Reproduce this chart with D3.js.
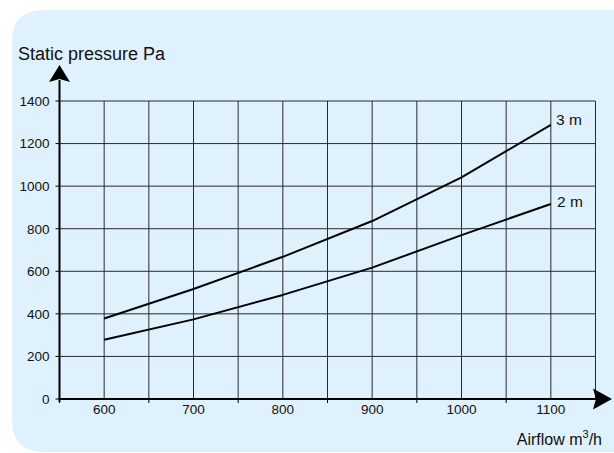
<!DOCTYPE html>
<html>
<head>
<meta charset="utf-8">
<script src="https://cdn.jsdelivr.net/npm/d3@7"></script>
<style>
  html, body { margin: 0; padding: 0; background: #ffffff; }
  svg { display: block; font-family: "Liberation Sans", Arial, Helvetica, sans-serif; }
</style>
</head>
<body>
<svg id="chart" width="614" height="453"></svg>
<script>
// ---- data ----
const airflow = [600, 700, 800, 900, 1000, 1100];
const pressure3m = [378, 517, 668, 836, 1041, 1288];
const pressure2m = [278, 374, 489, 617, 770, 916];
const seriesLabels = ["3 m", "2 m"];
const xTickLabels = [600, 700, 800, 900, 1000, 1100];
const yTickLabels = [0, 200, 400, 600, 800, 1000, 1200, 1400];
const xGridValues = [600, 650, 700, 750, 800, 850, 900, 950, 1000, 1050, 1100, 1150];
const xMinorTicks = [550, 650, 750, 850, 950, 1050];

const svg = d3.select("#chart");

// background panel
svg.append("path")
  .attr("d", (() => {
    const x0 = 12, y0 = 10, x1 = 640, y1 = 452, r = 32;
    return `M${x0},${y0 + r} Q${x0},${y0} ${x0 + r},${y0} L${x1},${y0} L${x1},${y1} L${x0 + r},${y1} Q${x0},${y1} ${x0},${y1 - r} Z`;
  })())
  .attr("fill", "#dff1fc");

const x = d3.scaleLinear().domain([550, 1150]).range([59.5, 595.5]);
const y = d3.scaleLinear().domain([0, 1400]).range([399, 101]);

// grid
const grid = svg.append("g").attr("stroke", "#2a2a2a").attr("stroke-width", 1);
grid.selectAll("line.v").data(xGridValues).enter().append("line")
  .attr("x1", d => x(d)).attr("x2", d => x(d))
  .attr("y1", y(0)).attr("y2", y(1400));
grid.selectAll("line.h").data(yTickLabels.filter(d => d > 0)).enter().append("line")
  .attr("x1", x(550)).attr("x2", x(1150))
  .attr("y1", d => y(d)).attr("y2", d => y(d));

// minor x ticks below axis
svg.append("g").selectAll("line").data(xMinorTicks).enter().append("line")
  .attr("x1", d => x(d)).attr("x2", d => x(d))
  .attr("y1", y(0)).attr("y2", y(0) + 4)
  .attr("stroke", "#000").attr("stroke-width", 1);

// y ticks left
svg.append("g").selectAll("line").data(yTickLabels).enter().append("line")
  .attr("x1", x(550) - 4).attr("x2", x(550))
  .attr("y1", d => y(d)).attr("y2", d => y(d))
  .attr("stroke", "#000").attr("stroke-width", 1);

// axes
svg.append("line").attr("x1", x(550)).attr("x2", x(550))
  .attr("y1", y(0) + 3).attr("y2", 80)
  .attr("stroke", "#000").attr("stroke-width", 2);
svg.append("line").attr("x1", x(550) - 1).attr("x2", 598)
  .attr("y1", y(0)).attr("y2", y(0))
  .attr("stroke", "#000").attr("stroke-width", 2.2);

// arrow heads
const ax = x(550);
svg.append("path").attr("d", `M${ax},65 L${ax + 10.5},82 L${ax},79 L${ax - 10.5},82 Z`).attr("fill", "#000");
const ay = y(0);
svg.append("path").attr("d", `M612,${ay} L593,${ay - 10.5} L596,${ay} L593,${ay + 10.5} Z`).attr("fill", "#000");

// tick labels
svg.append("g").selectAll("text").data(yTickLabels).enter().append("text")
  .attr("x", 49.5).attr("y", d => y(d) + 4.8)
  .attr("text-anchor", "end").attr("font-size", 13.5).attr("fill", "#111")
  .text(d => d);
svg.append("g").selectAll("text").data(xTickLabels).enter().append("text")
  .attr("x", d => x(d)).attr("y", 413.5)
  .attr("text-anchor", "middle").attr("font-size", 13.5).attr("fill", "#111")
  .text(d => d);

// lines
const line = d3.line().x((d, i) => x(airflow[i])).y(d => y(d));
[pressure3m, pressure2m].forEach(s => {
  svg.append("path").datum(s).attr("d", line)
    .attr("fill", "none").attr("stroke", "#000").attr("stroke-width", 2)
    .attr("stroke-linejoin", "round");
});

// series labels
svg.append("text").attr("x", 556).attr("y", 124.5).attr("font-size", 15.5).attr("fill", "#111").text(seriesLabels[0]);
svg.append("text").attr("x", 557).attr("y", 207).attr("font-size", 15.5).attr("fill", "#111").text(seriesLabels[1]);

// axis titles
svg.append("text").attr("x", 18).attr("y", 59.5).attr("font-size", 18).attr("fill", "#111")
  .text("Static pressure Pa");
const at = svg.append("text").attr("x", 602).attr("y", 444.5).attr("font-size", 16)
  .attr("text-anchor", "end").attr("fill", "#111");
at.append("tspan").text("Airflow m");
at.append("tspan").attr("dy", -7).attr("font-size", 11).text("3");
at.append("tspan").attr("dy", 7).text("/h");
</script>
</body>
</html>
